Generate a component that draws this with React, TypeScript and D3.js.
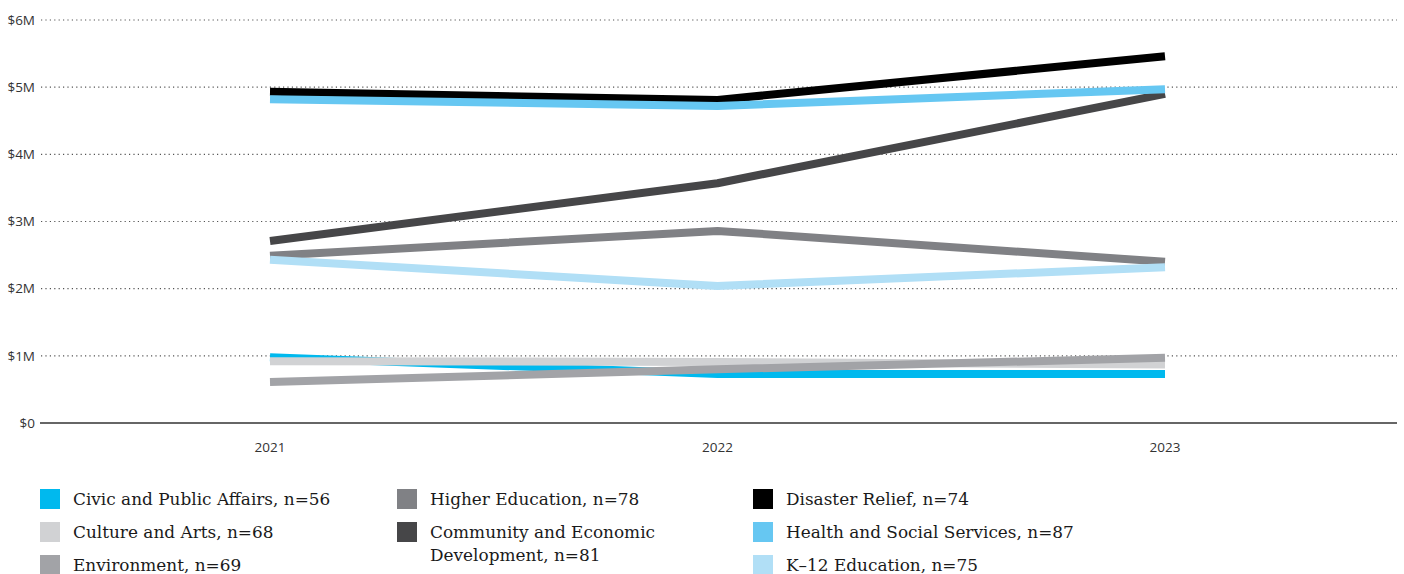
import React from "react";
import * as d3 from "d3";

const years = ["2021", "2022", "2023"];
const yTicks = [0, 1, 2, 3, 4, 5, 6];
const yTickLabels = ["$0", "$1M", "$2M", "$3M", "$4M", "$5M", "$6M"];

const civic = [0.98, 0.73, 0.73];
const culture = [0.92, 0.91, 0.87];
const environment = [0.61, 0.8, 0.97];
const higherEd = [2.49, 2.86, 2.4];
const community = [2.71, 3.57, 4.9];
const disaster = [4.93, 4.81, 5.46];
const health = [4.82, 4.72, 4.97];
const k12 = [2.43, 2.04, 2.32];

const seriesNames = [
  "Civic and Public Affairs, n=56",
  "Culture and Arts, n=68",
  "Environment, n=69",
  "Higher Education, n=78",
  "Community and Economic Development, n=81",
  "Disaster Relief, n=74",
  "Health and Social Services, n=87",
  "K–12 Education, n=75",
];
const seriesValues = [civic, culture, environment, higherEd, community, disaster, health, k12];
const colors = ["#00b9ee", "#d1d2d4", "#a2a3a7", "#808185", "#464648", "#000000", "#66c7f2", "#b1dff6"];

const W = 1404;
const H = 574;

export default function App() {
  const x = d3.scalePoint<string>().domain(years).range([270, 1165]);
  const y = d3.scaleLinear().domain([0, 6]).range([423, 20]);
  const line = d3
    .line<number>()
    .x((_, i) => x(years[i]) as number)
    .y((d) => y(d));

  const legendCols = [40, 397, 753];
  const rowY = [499, 532, 565];
  const legendItems = [
    { s: 0, col: 0, row: 0, lines: ["Civic and Public Affairs, n=56"] },
    { s: 1, col: 0, row: 1, lines: ["Culture and Arts, n=68"] },
    { s: 2, col: 0, row: 2, lines: ["Environment, n=69"] },
    { s: 3, col: 1, row: 0, lines: ["Higher Education, n=78"] },
    { s: 4, col: 1, row: 1, lines: ["Community and Economic", "Development, n=81"] },
    { s: 5, col: 2, row: 0, lines: ["Disaster Relief, n=74"] },
    { s: 6, col: 2, row: 1, lines: ["Health and Social Services, n=87"] },
    { s: 7, col: 2, row: 2, lines: ["K–12 Education, n=75"] },
  ];

  return (
    <svg width={W} height={H} style={{ position: "absolute", left: 0, top: 0, background: "#fff" }}>
      {yTicks.map((t, i) => (
        <g key={t}>
          {t > 0 ? (
            <line x1={41} x2={1397} y1={y(t)} y2={y(t)} stroke="#555" strokeWidth={1.2} strokeDasharray="1.2 3.2" />
          ) : (
            <line x1={40} x2={1397} y1={y(t)} y2={y(t)} stroke="#333" strokeWidth={1.3} />
          )}
          <text
            x={35}
            y={y(t)}
            dy="0.35em"
            textAnchor="end"
            fontFamily="'Open Sans', sans-serif"
            fontSize={13.5}
            fill="#333"
          >
            {yTickLabels[i]}
          </text>
        </g>
      ))}
      {years.map((yr) => (
        <text
          key={yr}
          x={x(yr)}
          y={452}
          textAnchor="middle"
          fontFamily="'Open Sans', sans-serif"
          fontSize={13.5}
          fill="#333"
        >
          {yr}
        </text>
      ))}
      {seriesValues.map((vals, i) => (
        <path key={seriesNames[i]} d={line(vals) || ""} fill="none" stroke={colors[i]} strokeWidth={8} strokeLinejoin="round" />
      ))}
      {legendItems.map((it) => (
        <g key={it.s}>
          <rect x={legendCols[it.col]} y={rowY[it.row] - 10} width={20} height={20} fill={colors[it.s]} />
          {it.lines.map((ln, j) => (
            <text
              key={j}
              x={legendCols[it.col] + 33}
              y={rowY[it.row] + j * 23}
              dy="0.35em"
              fontFamily="'DejaVu Serif', serif"
              fontSize={16.9}
              fill="#1a1a1a"
            >
              {ln}
            </text>
          ))}
        </g>
      ))}
    </svg>
  );
}
